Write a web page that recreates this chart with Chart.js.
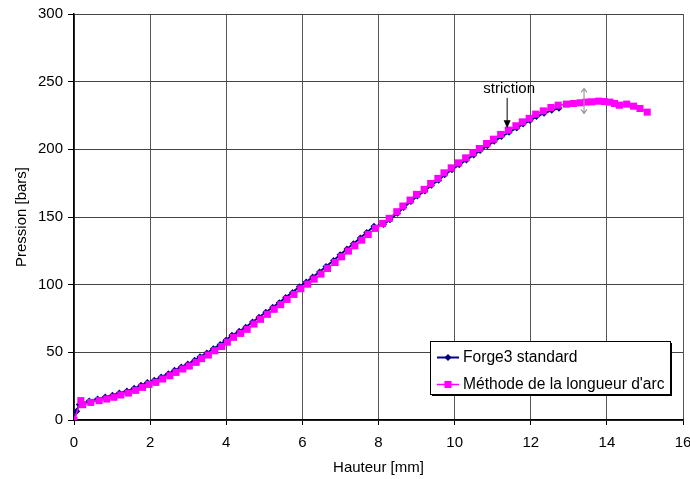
<!DOCTYPE html>
<html>
<head>
<meta charset="utf-8">
<script src="https://cdn.jsdelivr.net/npm/chart.js@4.4.1/dist/chart.umd.min.js"></script>
<style>
  html, body { margin: 0; padding: 0; background: #fff; }
  #wrap { width: 690px; height: 479px; }
</style>
</head>
<body>
<div id="wrap"><canvas id="chart" width="690" height="479"></canvas></div>
<script>
// Forge3 standard (navy diamonds)
const forgeX = [0, 0.07, 0.14, 0.40, 0.62, 0.82, 1.01, 1.19, 1.39, 1.58, 1.76, 1.93, 2.11, 2.29, 2.48, 2.64, 2.82, 2.99,
  3.17, 3.31, 3.49, 3.66, 3.84, 3.99, 4.15, 4.34, 4.51, 4.69, 4.86, 5.04, 5.22, 5.39, 5.56, 5.74, 5.92, 6.10,
  6.27, 6.45, 6.62, 6.82, 6.99, 7.17, 7.34, 7.52, 7.69, 7.88, 8.13, 8.30, 8.50, 8.66, 8.85, 9.02, 9.22, 9.39,
  9.58, 9.74, 9.93, 10.12, 10.31, 10.50, 10.67, 10.86, 11.04, 11.23, 11.43, 11.63, 11.80, 11.98, 12.15, 12.35,
  12.55, 12.74];
const forgeY = [0, 6.5, 11.5, 14.0, 15.6, 17.0, 18.3, 20.0, 21.4, 23.4, 25.6, 27.8, 29.3, 31.8, 34.2, 36.7, 39.2, 41.4,
  44.1, 46.8, 49.5, 52.7, 55.8, 59.0, 62.6, 65.5, 68.5, 72.4, 75.9, 79.6, 83.3, 86.7, 90.6, 94.3, 98.5, 101.9,
  105.6, 109.3, 113.5, 117.9, 122.1, 126.3, 130.2, 134.4, 138.6, 143.1, 144.5, 148.0, 152.8, 157.0, 161.4, 165.5,
  169.2, 173.5, 177.2, 181.2, 184.9, 188.6, 192.2, 195.9, 199.1, 202.7, 205.9, 209.4, 212.6, 215.8, 218.7, 221.3,
  224.2, 226.6, 228.9, 230.4];

// Méthode de la longueur d'arc (magenta squares)
const arcX = [0, 0.18, 0.23, 0.44, 0.66, 0.86, 1.05, 1.23, 1.43, 1.62, 1.80, 1.97, 2.15, 2.33, 2.52, 2.68, 2.86, 3.03,
  3.21, 3.35, 3.53, 3.70, 3.88, 4.03, 4.19, 4.38, 4.55, 4.73, 4.90, 5.08, 5.26, 5.43, 5.60, 5.78, 5.96, 6.14,
  6.31, 6.49, 6.66, 6.86, 7.03, 7.21, 7.38, 7.56, 7.73, 7.92, 8.11, 8.28, 8.48, 8.64, 8.83, 9.00, 9.20, 9.37,
  9.56, 9.72, 9.91, 10.10, 10.29, 10.48, 10.65, 10.84, 11.02, 11.21, 11.41, 11.61, 11.78, 11.96, 12.13, 12.33,
  12.53, 12.72, 12.94, 13.12, 13.30, 13.45, 13.60, 13.78, 13.93, 14.08, 14.20, 14.33, 14.52, 14.70, 14.87, 15.06];
const arcY = [0, 14.3, 11.3, 13.0, 14.3, 15.5, 16.8, 18.5, 19.9, 21.9, 24.1, 26.3, 27.8, 30.3, 32.7, 35.2, 37.7, 39.9,
  42.6, 45.3, 48.0, 51.2, 54.3, 57.5, 61.1, 64.0, 67.0, 70.9, 74.4, 78.1, 81.8, 85.2, 89.1, 92.8, 97.0, 100.4,
  104.1, 107.8, 112.0, 116.4, 120.6, 124.8, 128.7, 132.9, 137.1, 141.6, 145.3, 149.0, 153.9, 158.1, 162.5, 166.7,
  170.4, 174.8, 178.5, 182.6, 186.3, 190.0, 193.7, 197.4, 200.6, 204.3, 207.5, 211.0, 214.2, 217.4, 220.3, 222.9,
  226.0, 228.4, 230.9, 232.6, 233.4, 233.9, 234.4, 234.9, 235.1, 235.6, 235.3, 234.9, 233.9, 232.6, 233.4, 231.9,
  230.2, 227.5];

const seriesNames = ["Forge3 standard", "Méthode de la longueur d'arc"];
const xTicks = [0, 2, 4, 6, 8, 10, 12, 14, 16];
const yTicks = [0, 50, 100, 150, 200, 250, 300];

const FONT = "'Liberation Sans', Arial, sans-serif";

function toPoints(xs, ys) {
  return xs.map((x, i) => ({ x: x, y: ys[i] }));
}

// striction label + arrows, legend box
const extras = {
  id: "extras",
  afterDatasetsDraw(chart) {
    const ctx = chart.ctx;
    const xs = chart.scales.x, ys = chart.scales.y;

    // "striction" with a black arrow
    const sx = xs.getPixelForValue(11.38);
    ctx.save();
    ctx.fillStyle = "#000";
    ctx.font = "15px " + FONT;
    ctx.textAlign = "center";
    ctx.textBaseline = "middle";
    ctx.fillText("striction", sx + 2, ys.getPixelForValue(245));
    const a0 = ys.getPixelForValue(238), a1 = ys.getPixelForValue(215.5);
    ctx.strokeStyle = "#000";
    ctx.lineWidth = 1;
    ctx.beginPath();
    ctx.moveTo(sx, a0);
    ctx.lineTo(sx, a1 - 6);
    ctx.stroke();
    ctx.beginPath();
    ctx.moveTo(sx - 3.5, a1 - 8);
    ctx.lineTo(sx + 3.5, a1 - 8);
    ctx.lineTo(sx, a1);
    ctx.closePath();
    ctx.fill();

    // gray double arrow
    const gx = xs.getPixelForValue(13.4);
    const g0 = ys.getPixelForValue(245), g1 = ys.getPixelForValue(226.5);
    ctx.strokeStyle = "#9a9a9a";
    ctx.lineWidth = 1.2;
    ctx.beginPath();
    ctx.moveTo(gx, g0);
    ctx.lineTo(gx, g1);
    ctx.moveTo(gx - 3, g0 + 4);
    ctx.lineTo(gx, g0);
    ctx.lineTo(gx + 3, g0 + 4);
    ctx.moveTo(gx - 3, g1 - 4);
    ctx.lineTo(gx, g1);
    ctx.lineTo(gx + 3, g1 - 4);
    ctx.stroke();
    ctx.restore();
  },
  afterDraw(chart) {
    const ctx = chart.ctx;
    const bx = 430, by = 341, bw = 240, bh = 53;
    ctx.save();
    ctx.fillStyle = "#000";
    ctx.fillRect(bx + 2, by + 2, bw, bh);
    ctx.fillStyle = "#fff";
    ctx.fillRect(bx, by, bw, bh);
    ctx.strokeStyle = "#000";
    ctx.lineWidth = 1;
    ctx.strokeRect(bx + 0.5, by + 0.5, bw, bh);

    const rows = [
      { y: by + 16.5, color: "#000080", style: "rectRot", r: 3.5, w: 2 },
      { y: by + 43.5, color: "#ff00ff", style: "rect", r: 5, w: 1.5 }
    ];
    rows.forEach((row, i) => {
      ctx.strokeStyle = row.color;
      ctx.lineWidth = row.w;
      ctx.beginPath();
      ctx.moveTo(bx + 7, row.y);
      ctx.lineTo(bx + 29, row.y);
      ctx.stroke();
      ctx.fillStyle = row.color;
      Chart.helpers.drawPoint(ctx, { pointStyle: row.style, radius: row.r, borderWidth: 0 }, bx + 18, row.y);
      ctx.fillStyle = "#000";
      ctx.font = "15.6px " + FONT;
      ctx.textAlign = "left";
      ctx.textBaseline = "middle";
      ctx.fillText(seriesNames[i], bx + 33, row.y + 0.5);
    });
    ctx.restore();
  }
};

new Chart(document.getElementById("chart").getContext("2d"), {
  type: "scatter",
  data: {
    datasets: [
      {
        label: seriesNames[0],
        data: toPoints(forgeX, forgeY),
        showLine: true,
        borderColor: "#000080",
        backgroundColor: "#000080",
        borderWidth: 2,
        pointStyle: "rectRot",
        pointRadius: 3.5,
        pointBorderWidth: 0,
        order: 1
      },
      {
        label: seriesNames[1],
        data: toPoints(arcX, arcY),
        showLine: true,
        borderColor: "#ff00ff",
        backgroundColor: "#ff00ff",
        borderWidth: 1.5,
        pointStyle: "rect",
        pointRadius: 5,
        pointBorderWidth: 0,
        order: 0
      }
    ]
  },
  options: {
    responsive: false,
    animation: false,
    devicePixelRatio: 1,
    layout: { padding: { top: 14, right: 7, left: 0, bottom: 0 } },
    plugins: {
      legend: { display: false },
      tooltip: { enabled: false }
    },
    scales: {
      x: {
        type: "linear",
        min: 0,
        max: 16,
        afterBuildTicks: s => { s.ticks = xTicks.map(v => ({ value: v })); },
        afterFit: s => { s.height = 59; s.paddingRight = 7; },
        ticks: { color: "#000", font: { family: FONT, size: 15 }, padding: 9, maxRotation: 0 },
        grid: { color: "#555", lineWidth: 1, tickColor: "#000", tickLength: 5 },
        border: { color: "#000", width: 1.5 },
        title: { display: true, text: "Hauteur [mm]", color: "#000", font: { family: FONT, size: 15 }, padding: { top: 0, bottom: 2 } }
      },
      y: {
        type: "linear",
        min: 0,
        max: 300,
        afterBuildTicks: s => { s.ticks = yTicks.map(v => ({ value: v })); },
        afterFit: s => { s.width = 74; },
        ticks: { color: "#000", font: { family: FONT, size: 15 }, padding: 5 },
        grid: { color: "#444", lineWidth: 1, tickColor: "#000", tickLength: 6 },
        border: { color: "#000", width: 1.5 },
        title: { display: true, text: "Pression [bars]", color: "#000", font: { family: FONT, size: 15 }, padding: { top: 13, bottom: 0 } }
      }
    }
  },
  plugins: [extras]
});
</script>
</body>
</html>
